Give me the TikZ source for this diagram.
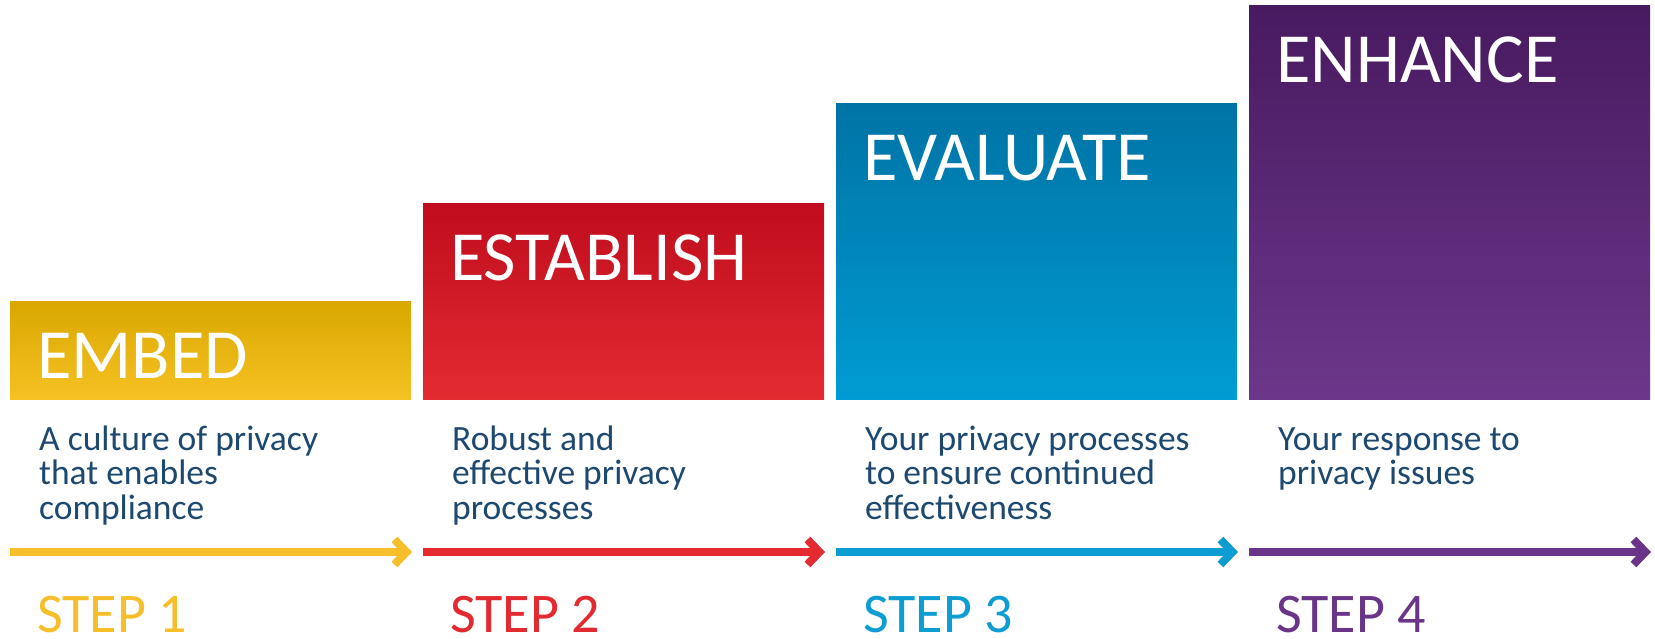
\documentclass[tikz,border=0pt]{standalone}
\usepackage{fontspec}
\setmainfont{Carlito}
\usepackage{tikz}
\usetikzlibrary{arrows.meta}
\definecolor{embedtop}{HTML}{D9A700}
\definecolor{embedbot}{HTML}{F6C224}
\definecolor{embedline}{HTML}{F6BF2A}
\definecolor{establishtop}{HTML}{C00C1D}
\definecolor{establishbot}{HTML}{E32B32}
\definecolor{establishline}{HTML}{E22A30}
\definecolor{evaluatetop}{HTML}{0073A5}
\definecolor{evaluatebot}{HTML}{009CD3}
\definecolor{evaluateline}{HTML}{0E9DD3}
\definecolor{enhancetop}{HTML}{481A60}
\definecolor{enhancebot}{HTML}{6C378A}
\definecolor{enhanceline}{HTML}{6A3588}
\definecolor{textblue}{HTML}{1D4870}
\tikzset{stepbox/.style={rectangle, inner sep=0pt, minimum width=401pt, anchor=south west}}
\tikzset{title/.style={anchor=base west, inner sep=0pt, text=white, font=\fontsize{70.5}{70.5}\selectfont}}
\tikzset{desc/.style={anchor=base west, align=left, inner sep=0pt, text=textblue, font=\fontsize{35.5}{34.5}\selectfont}}
\tikzset{steplab/.style={anchor=base west, inner sep=0pt, font=\fontsize{56}{56}\selectfont}}
\tikzset{flow/.style={line width=8pt, -{Straight Barb[length=12pt,width=25pt]}}}

\begin{document}
\begin{tikzpicture}[x=1pt,y=-1pt]
  \useasboundingbox (0,0) rectangle (1655,639);
  \foreach \x/\y/\lab/\name/\col in {
    10/302/1/EMBED/embed,
    423/204/2/ESTABLISH/establish,
    836/104/3/EVALUATE/evaluate,
    1249/6/4/ENHANCE/enhance%
  } {
    \node[stepbox, top color=\col top, bottom color=\col bot, minimum height={400-\y}] (box\lab) at (\x,400) {};
    \node[title] (title\lab) at ([shift={(27,77)}]box\lab.north west) {\name};
    \coordinate (from\lab) at (\x,552);
    \coordinate (to\lab) at (\x+402,552);
    \draw[flow, draw=\col line] (from\lab) -- (to\lab);
    \node[steplab, text=\col line] (step\lab) at (\x+27,632) {STEP \lab};
  }

  % descriptions (anchored on the last line)
  \node[desc] (desc1) at (39,519) {A culture of privacy\\that enables\\compliance};
  \node[desc] (desc2) at (452,519) {Robust and\\effective privacy\\processes};
  \node[desc] (desc3) at (865,519) {Your privacy processes\\to ensure continued\\effectiveness};
  \node[desc] (desc4) at (1278,484.5) {Your response to\\privacy issues};

\end{tikzpicture}
\end{document}
